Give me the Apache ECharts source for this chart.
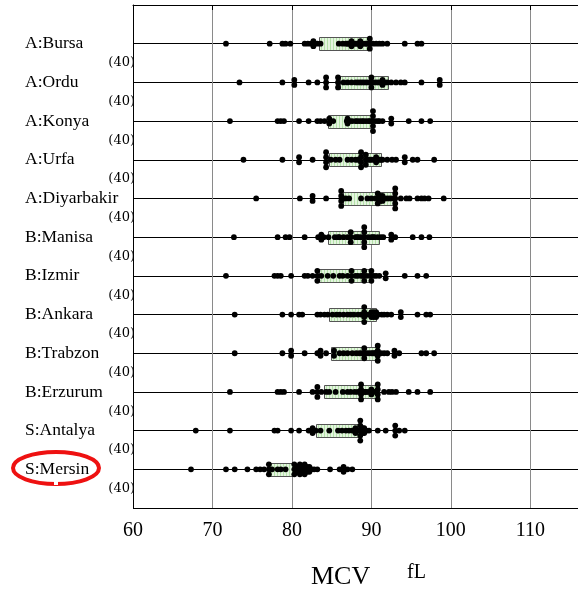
<!DOCTYPE html>
<html><head><meta charset="utf-8">
<script src="https://cdn.jsdelivr.net/npm/echarts@6/dist/echarts.min.js"></script>
<style>html,body{margin:0;padding:0;background:#fff}#c{width:578px;height:590px}</style>
</head><body><div id="c"></div>
<script>
const rowNames = ['A:Bursa','A:Ordu','A:Konya','A:Urfa','A:Diyarbakir','B:Manisa','B:Izmir','B:Ankara','B:Trabzon','B:Erzurum','S:Antalya','S:Mersin'];
const counts = [40,40,40,40,40,40,40,40,40,40,40,40];
const xTicks = [60,70,80,90,100,110];
const xMin = 60, xMax = 116;

const bursa = [71.7,77.2,78.8,79.2,79.8,81.6,82.0,82.4,82.7,82.7,83.2,83.6,85.9,86.4,86.8,87.0,87.2,87.5,87.5,87.8,88.0,88.2,88.4,88.6,88.6,88.9,89.2,89.4,89.6,89.8,89.8,89.8,90.2,90.6,91.0,91.4,92.0,94.2,95.8,96.3];
const ordu = [73.4,78.8,80.3,80.3,82.1,83.2,84.3,84.3,84.3,85.8,85.8,85.8,86.5,87.0,87.5,88.0,88.3,88.6,88.9,89.2,89.5,89.8,90.0,90.0,90.0,90.3,90.6,90.9,91.2,91.4,91.4,91.7,92.0,92.5,93.1,93.7,94.2,96.3,98.6,98.6];
const konya = [72.2,78.2,78.6,79.0,80.9,82.1,83.2,83.6,84.1,84.7,84.7,85.2,86.9,87.0,87.0,87.3,87.6,88.0,88.2,88.5,88.8,89.0,89.3,89.6,89.8,90.0,90.2,90.2,90.2,90.2,90.2,90.5,90.8,91.0,91.4,92.5,92.5,94.7,96.3,97.4];
const urfa = [73.9,78.8,80.9,80.9,82.6,84.3,84.3,84.3,84.3,84.9,85.5,86.0,87.0,87.5,88.0,88.3,88.7,88.7,88.7,88.7,89.3,89.3,89.3,89.6,89.8,90.0,90.3,90.6,90.6,91.0,91.2,91.4,92.0,92.6,93.1,94.2,94.2,95.2,95.8,97.9];
const diyarbakir = [75.5,81.0,82.6,82.6,84.3,86.2,86.2,86.2,86.2,86.5,86.8,87.2,88.7,89.5,90.0,90.5,90.8,90.8,90.8,91.1,91.1,91.4,91.4,91.7,92.0,92.3,92.6,93.0,93.0,93.0,93.0,93.0,93.7,94.4,94.8,95.8,96.3,96.7,97.2,99.1];
const manisa = [72.7,78.2,79.2,79.7,81.6,83.3,83.7,83.7,84.0,84.6,85.4,85.8,86.0,86.5,87.0,87.4,87.4,87.4,88.0,88.2,88.4,88.7,89.1,89.1,89.1,89.1,89.1,89.6,90.0,90.2,90.4,90.8,91.2,91.5,92.5,92.5,93.0,95.2,96.3,97.3];
const izmir = [71.7,77.8,78.2,78.6,79.9,81.6,82.0,82.6,83.2,83.2,83.2,83.7,84.5,85.2,86.0,86.4,87.0,87.5,87.5,87.5,88.0,88.3,88.7,88.9,89.1,89.1,89.1,89.4,89.8,90.0,90.0,90.0,90.3,90.6,91.0,91.8,91.8,94.2,95.8,96.9];
const ankara = [72.8,78.8,79.9,80.9,81.3,83.2,83.6,84.1,84.5,85.1,85.6,86.0,86.5,87.0,87.4,87.8,88.3,88.7,89.1,89.1,89.1,89.1,89.4,89.7,90.0,90.0,90.3,90.3,90.6,90.6,90.9,91.3,91.6,92.0,92.5,93.7,93.7,95.8,96.9,97.4];
const trabzon = [72.8,78.8,79.9,79.9,81.6,83.2,83.6,83.6,84.3,85.3,85.3,86.0,86.5,87.0,87.6,88.1,88.5,88.8,89.1,89.1,89.1,89.4,89.7,90.0,90.2,90.4,90.5,90.8,90.8,90.8,90.8,91.2,91.6,92.0,92.9,92.9,93.5,96.3,96.9,97.9];
const erzurum = [72.2,78.2,78.6,79.0,80.9,82.6,83.2,83.2,83.2,83.7,84.3,84.7,85.5,86.4,87.0,87.4,87.9,88.3,88.7,88.7,88.7,88.7,89.1,89.2,89.4,89.7,90.0,90.0,90.4,90.8,90.8,90.8,90.8,91.6,92.2,92.6,93.1,94.7,95.8,97.4];
const antalya = [67.9,72.2,77.8,78.2,79.9,80.9,82.1,82.6,82.6,83.0,83.6,84.7,85.8,86.3,86.8,87.2,87.6,87.8,88.0,88.0,88.3,88.6,88.6,88.6,88.6,88.6,88.9,88.9,89.1,89.1,89.3,89.4,89.7,90.8,91.8,93.0,93.0,93.0,93.5,94.2];
const mersin = [67.3,71.7,72.8,74.4,75.5,76.0,76.5,77.1,77.1,77.1,77.5,78.2,78.6,79.2,80.3,80.3,80.3,80.7,80.7,81.0,81.0,81.0,81.3,81.3,81.6,81.6,81.6,81.9,81.9,82.2,82.2,82.5,82.8,83.2,84.8,86.0,86.5,86.5,87.0,87.6];

const boxLow  = [83.4,86.0,84.6,84.7,86.4,84.5,83.4,84.7,84.9,84.0,83.0,77.1];
const boxHigh = [89.7,92.1,90.0,91.2,92.7,91.0,90.0,90.6,90.6,91.0,88.7,80.3];

const rowValues = [bursa,ordu,konya,urfa,diyarbakir,manisa,izmir,ankara,trabzon,erzurum,antalya,mersin];

// dot data with vertical stacking index for equal values
const dotData = [];
rowValues.forEach((vals, i) => {
  const groups = {};
  vals.forEach(v => { const k = v.toFixed(1); (groups[k] = groups[k] || []).push(v); });
  Object.keys(groups).forEach(k => {
    const g = groups[k], n = g.length;
    g.forEach((v, j) => dotData.push([v, i + 1, j - (n - 1) / 2]));
  });
});
const boxData = boxLow.map((lo, i) => [lo, boxHigh[i], i + 1]);

const serif = 'Liberation Serif';
const chart = echarts.init(document.getElementById('c'), null, {renderer: 'canvas'});
chart.setOption({
  animation: false,
  grid: {left: 133, top: 5, width: 445, height: 503, containLabel: false},
  xAxis: {
    type: 'value', min: xMin, max: xMax, interval: 10,
    axisLine: {show: true, lineStyle: {color: '#000', width: 1}},
    axisTick: {show: true, length: 5, lineStyle: {color: '#000'}},
    axisLabel: {color: '#000', fontFamily: serif, fontSize: 20, margin: 13,
      showMaxLabel: false,
      formatter: v => xTicks.indexOf(v) >= 0 ? String(v) : ''},
    splitLine: {show: true, lineStyle: {color: '#8a8a8a', width: 1}}
  },
  yAxis: [{
    type: 'value', min: 0, max: 13, interval: 1, inverse: true,
    axisLine: {show: true, lineStyle: {color: '#000', width: 1}},
    axisTick: {show: false},
    axisLabel: {color: '#000', fontFamily: serif, fontSize: 17.5, align: 'left', margin: 108,
      formatter: v => (v >= 1 && v <= rowNames.length) ? rowNames[v - 1] : ''},
    splitLine: {show: true, lineStyle: {color: '#000', width: 1}}
  }, {
    type: 'value', min: 0, max: 13, interval: 0.5, inverse: true, position: 'left',
    axisLine: {show: false}, axisTick: {show: false}, splitLine: {show: false},
    axisLabel: {color: '#000', fontFamily: 'DejaVu Serif', fontSize: 13, margin: -2, align: 'right',
      formatter: v => (v % 1 === 0.5 && v > 1 && v < 13) ? '(' + counts[Math.floor(v) - 1] + ')' : ''}
  }],
  series: [{
    type: 'custom', yAxisIndex: 0, data: boxData, z: 3,
    renderItem: (params, api) => {
      const a = api.coord([api.value(0), api.value(2)]);
      const b = api.coord([api.value(1), api.value(2)]);
      const h = 13, x0 = Math.round(a[0]) + 0.5, x1 = Math.round(b[0]) + 0.5, y0 = Math.round(a[1] - h / 2) + 0.5;
      const children = [{type: 'rect', shape: {x: x0, y: y0, width: x1 - x0, height: h},
        style: {fill: '#e4f5df', stroke: 'none'}}];
      for (let x = x0 + 2; x < x1; x += 3) {
        children.push({type: 'line', shape: {x1: x, y1: y0, x2: x, y2: y0 + h},
          style: {stroke: '#b5e2aa', lineWidth: 1}});
      }
      children.push({type: 'rect', shape: {x: x0, y: y0, width: x1 - x0, height: h},
        style: {fill: 'none', stroke: '#555', lineWidth: 1}});
      return {type: 'group', children};
    }
  }, {
    type: 'custom', yAxisIndex: 0, data: dotData, z: 4,
    renderItem: (params, api) => {
      const p = api.coord([api.value(0), api.value(1)]);
      return {type: 'circle', shape: {cx: p[0], cy: p[1] + api.value(2) * 5, r: 2.9},
        style: {fill: '#000'}};
    }
  }],
  graphic: [
    {type: 'ellipse', shape: {cx: 56, cy: 468, rx: 43, ry: 16},
      style: {fill: 'none', stroke: '#ee1111', lineWidth: 4}, z: 10},
    {type: 'rect', shape: {x: 54, y: 481, width: 4, height: 4}, style: {fill: '#fff'}, z: 11},
    {type: 'text', left: 311, top: 564, style: {text: 'MCV', font: '26px "Liberation Serif"', fill: '#000'}},
    {type: 'text', left: 407, top: 563, style: {text: 'fL', font: '20px "Liberation Serif"', fill: '#000'}}
  ]
});
</script></body></html>
